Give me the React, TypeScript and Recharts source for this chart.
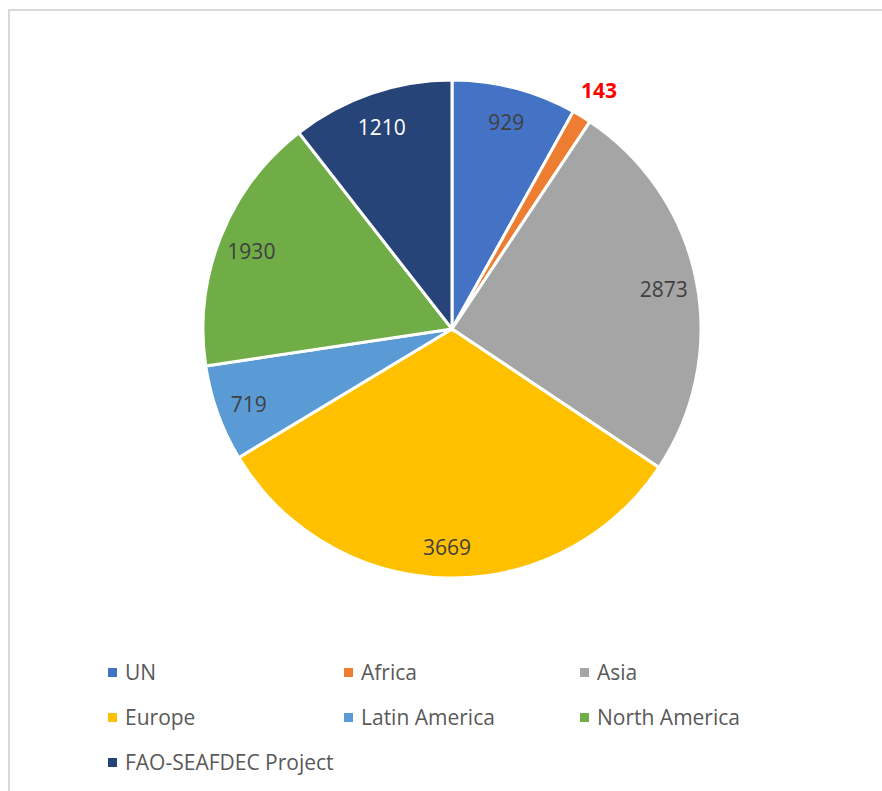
import { Cell, Legend, Pie, PieChart } from "recharts"

const regions = ["UN", "Africa", "Asia", "Europe", "Latin America", "North America", "FAO-SEAFDEC Project"]
const amounts = [929, 143, 2873, 3669, 719, 1930, 1210]
const colors = ["#4472C4", "#ED7D31", "#A5A5A5", "#FFC000", "#5B9BD5", "#70AD47", "#264478"]

const data = regions.map((name, i) => ({ name, value: amounts[i], color: colors[i] }))

const FONT = "'Open Sans', 'DejaVu Sans', sans-serif"
const RAD = Math.PI / 180

const renderLabel = (props: any) => {
  const { cx, cy, midAngle, index, value } = props
  const small = index === 1 // Africa label sits outside, red bold
  const r = small ? 282 : 216
  const x = cx + r * Math.cos(-midAngle * RAD)
  const y = cy + r * Math.sin(-midAngle * RAD)
  let fill = "#404040"
  if (small) fill = "#FF0000"
  if (index === 6) fill = "#FFFFFF"
  return (
    <text
      x={x}
      y={y + 2}
      fill={fill}
      textAnchor="middle"
      dominantBaseline="central"
      fontFamily={FONT}
      fontSize={21}
      fontWeight={small ? 700 : 400}
    >
      {value}
    </text>
  )
}

const renderLegend = () => {
  return (
    <div style={{ position: "relative", width: 874, height: 140 }}>
      {data.map((item, i) => {
        const col = i % 3
        const row = Math.floor(i / 3)
        return (
          <div
            key={`leg-${i}`}
            style={{
              position: "absolute",
              left: 98 + col * 236,
              top: row * 45,
              height: 24,
              display: "flex",
              alignItems: "center",
              fontFamily: FONT,
              fontSize: 21,
              color: "#595959",
              whiteSpace: "nowrap",
            }}
          >
            <span style={{ display: "inline-block", width: 9, height: 9, background: item.color, marginRight: 8 }} />
            {item.name}
          </div>
        )
      })}
    </div>
  )
}

export default function App() {
  return (
    <div
      style={{
        position: "fixed",
        left: 8,
        top: 9,
        width: 874,
        height: 782,
        borderTop: "2px solid #d9d9d9",
        borderLeft: "2px solid #d9d9d9",
        boxSizing: "border-box",
        background: "#fff",
      }}
    >
      <PieChart width={872} height={780} margin={{ top: 0, right: 0, bottom: 0, left: 0 }}>
        <Pie
          data={data}
          dataKey="value"
          nameKey="name"
          cx={442}
          cy={318}
          outerRadius={249}
          startAngle={90}
          endAngle={-270}
          stroke="#FFFFFF"
          strokeWidth={3}
          label={renderLabel}
          labelLine={false}
          isAnimationActive={false}
        >
          {data.map((item, key) => (
            <Cell key={`cell-${key}`} fill={item.color} />
          ))}
        </Pie>
        <Legend
          content={renderLegend}
          wrapperStyle={{ position: "absolute", left: 0, top: 649, width: 874 }}
        />
      </PieChart>
    </div>
  )
}
